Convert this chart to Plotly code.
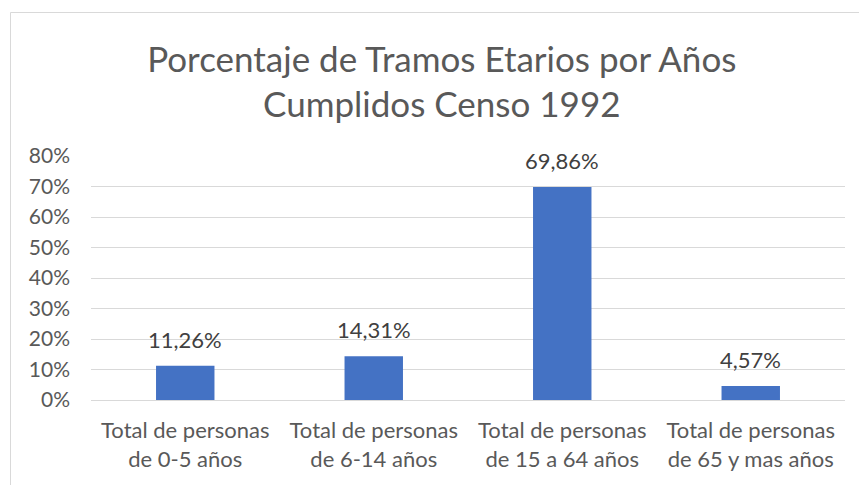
import plotly.graph_objects as go

categories = ["Total de personas<br>de 0-5 años", "Total de personas<br>de 6-14 años",
              "Total de personas<br>de 15 a 64 años", "Total de personas<br>de 65 y mas años"]
values = [0.1126, 0.1431, 0.6986, 0.0457]
tick_vals = [0, 0.1, 0.2, 0.3, 0.4, 0.5, 0.6, 0.7, 0.8]
tick_text = ["0%", "10%", "20%", "30%", "40%", "50%", "60%", "70%", "80%"]
title = "Porcentaje de Tramos Etarios por Años<br>Cumplidos Censo 1992"

labels = [f"{v*100:.2f}%".replace(".", ",") for v in values]

FONT = "Lato"
# page has an 8px body margin; figure spans page x 8..867, y 8..485
W, H = 859, 477
L, R, T, B = 83, 22, 148, 85
pw = W - L - R
ph = H - T - B

def px_x(x):
    return (x - L) / pw

def px_y(y):
    return (H - B - y) / ph

fig = go.Figure()
fig.add_trace(go.Bar(
    x=categories, y=values,
    marker=dict(color="#4472C4", line=dict(width=0)),
    hoverinfo="skip",
))

for c, v, t in zip(categories, values, labels):
    fig.add_annotation(x=c, y=v, text=t, showarrow=False, yanchor="bottom",
                       yshift=11, font=dict(family=FONT, size=22, color="#404040"))

fig.update_layout(
    width=W, height=H,
    margin=dict(l=L, r=R, t=T, b=B),
    paper_bgcolor="white", plot_bgcolor="white",
    bargap=0.69,
    showlegend=False,
    font=dict(family=FONT, color="#595959"),
    title=dict(text=title, x=0.505, xanchor="center", y=0.866, yanchor="middle",
               font=dict(family=FONT, size=35, color="#595959")),
    xaxis=dict(showgrid=False, showline=False, ticks="", ticklabelstandoff=15,
               tickfont=dict(family=FONT, size=22, color="#595959")),
    yaxis=dict(range=[0, 0.8], tickvals=tick_vals, ticktext=tick_text,
               showgrid=True, gridcolor="#d9d9d9", gridwidth=1,
               zeroline=True, zerolinecolor="#d9d9d9", zerolinewidth=1,
               showline=False, ticks="", ticklabelstandoff=20,
               tickfont=dict(family=FONT, size=21, color="#595959")),
    shapes=[dict(type="rect", xref="paper", yref="paper",
                 x0=px_x(2.5), x1=px_x(900), y0=px_y(520), y1=px_y(4.5),
                 line=dict(color="#d9d9d9", width=1), layer="below")],
)

fig.write_html("out.html")
